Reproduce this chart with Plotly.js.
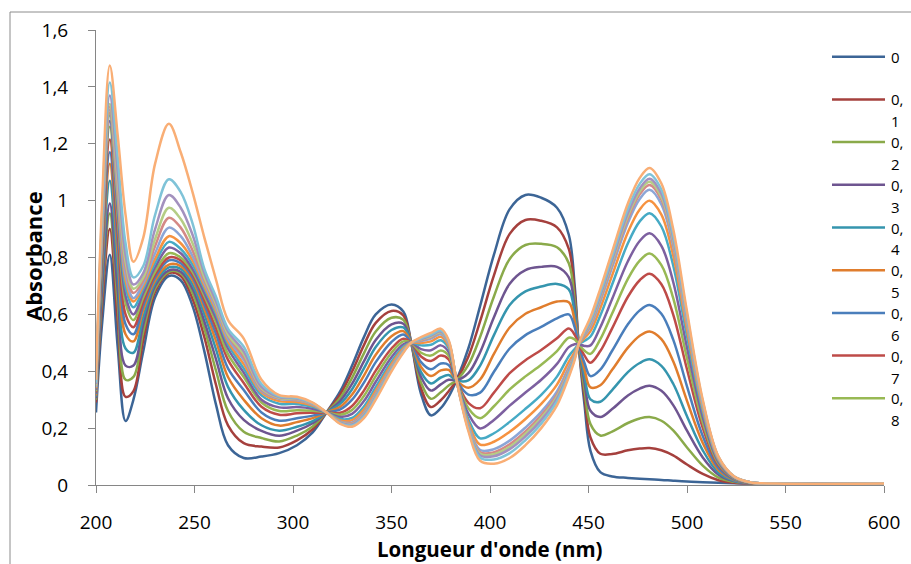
<!DOCTYPE html>
<html><head><meta charset="utf-8">
<script src="https://cdn.plot.ly/plotly-3.0.1.min.js"></script>
<style>html,body{margin:0;padding:0;background:#fff;overflow:hidden}#chart{width:911px;height:564px}</style>
</head><body><div id="chart"></div>
<script>
// Wavelength (nm) sampling points
const wavelengths = [200,203,207,211,215,219,224,230,237,243,249,255,261,267,275,284,293,302,310,317,324,330,336,342,350,356,360,365,370,375,379,383,389,395,402,410,418,426,434,440,443,445,448,451,456,462,470,476,481,487,493,500,508,516,524,532,545,600];

// Absorbance values, one array per series
const s0 = [.255,.56,.81,.486,.225,.30,.47,.66,.735,.72,.63,.47,.28,.14,.095,.10,.112,.14,.185,.255,.33,.42,.52,.60,.635,.61,.50,.32,.245,.27,.31,.368,.48,.63,.81,.97,1.02,1.01,.975,.88,.70,.495,.28,.12,.045,.03,.025,.022,.02,.018,.015,.012,.01,.008,.006,.005,.005,.005];
const s1 = [.29,.626,.90,.579,.31,.33,.51,.68,.745,.735,.655,.52,.35,.21,.147,.135,.132,.157,.196,.255,.319,.399,.492,.57,.612,.596,.50,.34,.274,.298,.33,.368,.451,.576,.737,.883,.932,.929,.906,.83,.674,.495,.307,.167,.11,.109,.122,.128,.13,.122,.104,.072,.039,.017,.008,.006,.005,.005];
const s2 = [.30,.66,.955,.64,.37,.38,.54,.69,.75,.745,.675,.55,.40,.26,.187,.165,.153,.174,.206,.255,.307,.377,.463,.54,.588,.581,.50,.36,.303,.326,.35,.368,.422,.521,.663,.795,.844,.848,.836,.78,.648,.495,.333,.214,.174,.188,.218,.234,.239,.226,.192,.132,.068,.026,.011,.006,.005,.005];
const s3 = [.305,.682,.99,.686,.42,.42,.565,.70,.755,.75,.69,.575,.44,.305,.229,.19,.173,.191,.217,.255,.296,.356,.435,.51,.565,.567,.50,.38,.332,.354,.37,.368,.393,.467,.59,.708,.756,.767,.767,.73,.622,.495,.36,.261,.239,.267,.315,.339,.349,.331,.281,.191,.097,.036,.013,.006,.005,.005];
const s4 = [.31,.728,1.07,.757,.48,.465,.59,.71,.765,.76,.705,.60,.475,.345,.264,.21,.191,.205,.225,.255,.286,.337,.41,.485,.545,.554,.50,.397,.357,.378,.387,.368,.368,.42,.527,.633,.681,.698,.707,.688,.60,.495,.382,.301,.293,.334,.397,.429,.442,.419,.356,.242,.122,.043,.015,.007,.005,.005];
const s5 = [.315,.763,1.13,.815,.53,.505,.615,.72,.775,.77,.72,.62,.505,.38,.30,.235,.209,.221,.235,.255,.275,.318,.385,.458,.523,.541,.50,.415,.383,.403,.405,.368,.342,.371,.461,.554,.602,.625,.645,.643,.577,.495,.406,.343,.351,.405,.483,.525,.54,.513,.435,.296,.148,.052,.017,.007,.005,.005];
const s6 = [.32,.788,1.17,.855,.565,.53,.63,.73,.79,.78,.73,.635,.53,.41,.334,.255,.226,.235,.244,.255,.266,.30,.36,.432,.503,.529,.50,.432,.407,.427,.422,.368,.318,.325,.398,.48,.527,.556,.586,.60,.554,.495,.428,.383,.406,.472,.565,.614,.633,.602,.511,.347,.172,.06,.019,.008,.005,.005];
const s7 = [.325,.815,1.215,.898,.60,.555,.645,.74,.80,.79,.74,.65,.55,.44,.359,.275,.247,.252,.254,.255,.254,.278,.332,.402,.48,.514,.50,.452,.436,.455,.442,.368,.289,.27,.325,.393,.439,.475,.516,.55,.528,.495,.455,.43,.471,.551,.662,.72,.743,.706,.599,.407,.201,.069,.022,.008,.005,.005];
const s8 = [.33,.842,1.26,.94,.64,.58,.66,.75,.815,.80,.75,.665,.57,.46,.38,.29,.26,.263,.261,.255,.247,.264,.313,.383,.465,.505,.50,.465,.455,.473,.455,.368,.27,.235,.277,.336,.382,.423,.471,.518,.512,.495,.472,.461,.513,.603,.725,.789,.814,.773,.657,.446,.22,.075,.023,.009,.005,.005];
const s9 = [.335,.855,1.28,.967,.665,.60,.675,.765,.835,.815,.76,.675,.585,.48,.395,.30,.273,.274,.268,.255,.239,.25,.295,.363,.449,.495,.50,.478,.474,.491,.468,.368,.251,.199,.229,.279,.325,.37,.426,.485,.495,.495,.489,.491,.555,.654,.787,.858,.885,.841,.714,.484,.239,.081,.025,.009,.005,.005];
const s10 = [.34,.868,1.30,.996,.695,.625,.69,.78,.855,.83,.775,.69,.60,.495,.41,.315,.286,.285,.275,.255,.232,.236,.276,.344,.434,.486,.50,.491,.493,.509,.481,.368,.232,.164,.182,.222,.268,.317,.381,.453,.478,.495,.507,.522,.596,.705,.85,.927,.956,.909,.772,.523,.258,.087,.027,.009,.005,.005];
const s11 = [.34,.874,1.31,1.017,.72,.645,.70,.795,.875,.85,.79,.70,.61,.505,.425,.325,.295,.292,.279,.255,.227,.228,.265,.332,.425,.48,.50,.499,.505,.521,.489,.368,.22,.142,.152,.187,.232,.285,.353,.433,.467,.495,.517,.541,.622,.737,.889,.969,1.0,.951,.807,.547,.27,.09,.027,.009,.005,.005];
const s12 = [.345,.881,1.32,1.035,.74,.657,.71,.815,.905,.875,.805,.71,.62,.515,.44,.33,.302,.298,.283,.255,.223,.22,.255,.321,.416,.475,.50,.506,.515,.53,.496,.368,.21,.123,.126,.156,.202,.257,.329,.415,.458,.495,.526,.557,.645,.765,.922,1.006,1.038,.987,.838,.568,.28,.094,.028,.01,.005,.005];
const s13 = [.35,.889,1.33,1.055,.765,.675,.72,.84,.94,.905,.825,.72,.63,.525,.45,.335,.305,.301,.284,.255,.221,.217,.251,.317,.413,.473,.50,.509,.519,.535,.499,.368,.206,.115,.115,.143,.188,.245,.318,.408,.454,.495,.53,.564,.655,.777,.937,1.022,1.055,1.003,.851,.577,.284,.095,.029,.01,.005,.005];
const s14 = [.35,.895,1.34,1.074,.785,.69,.73,.865,.975,.935,.85,.73,.635,.53,.46,.34,.307,.302,.285,.255,.22,.215,.248,.314,.411,.472,.50,.511,.522,.537,.501,.368,.203,.11,.108,.134,.18,.236,.311,.403,.452,.495,.533,.569,.661,.784,.947,1.032,1.066,1.013,.86,.583,.287,.096,.029,.01,.005,.005];
const s15 = [.355,.913,1.37,1.104,.81,.705,.745,.90,1.02,.975,.88,.745,.645,.54,.47,.345,.309,.304,.286,.255,.219,.213,.245,.311,.408,.47,.50,.513,.525,.54,.503,.368,.20,.104,.101,.126,.171,.228,.304,.398,.449,.495,.536,.574,.667,.792,.956,1.043,1.077,1.024,.869,.589,.29,.097,.029,.01,.005,.005];
const s16 = [.36,.94,1.415,1.154,.85,.73,.77,.95,1.075,1.03,.92,.76,.66,.55,.486,.355,.312,.307,.288,.255,.217,.209,.241,.306,.405,.468,.50,.516,.529,.544,.506,.368,.196,.096,.09,.112,.158,.216,.294,.39,.445,.495,.54,.581,.677,.804,.971,1.059,1.093,1.039,.882,.598,.294,.098,.03,.01,.005,.005];
const s17 = [.37,.978,1.475,1.23,.95,.785,.87,1.13,1.27,1.17,1.03,.87,.72,.58,.515,.37,.316,.31,.29,.255,.215,.205,.235,.30,.40,.465,.50,.52,.535,.55,.51,.368,.19,.085,.075,.095,.14,.20,.28,.38,.44,.495,.545,.59,.69,.82,.99,1.08,1.115,1.06,.90,.61,.30,.10,.03,.01,.005,.005];

const seriesValues = [s0,s1,s2,s3,s4,s5,s6,s7,s8,s9,s10,s11,s12,s13,s14,s15,s16,s17];
const seriesNames = ["0","0,1","0,2","0,3","0,4","0,5","0,6","0,7","0,8","0,9","1","1,1","1,2","1,3","1,4","1,5","1,6","1,7"];
const seriesColors = ["#3C6596","#A5403D","#8AAA4A","#6E5590","#3595AE","#E07D2D",
                      "#4A7EBB","#BE4B48","#98B954","#7D60A0","#46AAC5","#F69240",
                      "#8CA6D6","#D48986","#B5CD85","#A391BE","#7FC3D8","#F9AE75"];
const legendShown = 9;
const xTickValues = [200,250,300,350,400,450,500,550,600];
const yTickValues = [0,0.2,0.4,0.6,0.8,1,1.2,1.4,1.6];
const xTitle = "Longueur d'onde (nm)";
const yTitle = "Absorbance";

seriesValues.forEach((s,i)=>{ if(s.length!==wavelengths.length) console.error('length mismatch', i, s.length); });

const W = 911, H = 564;
const M = {l:96, r:27, t:30, b:79};
const PW = W - M.l - M.r, PH = H - M.t - M.b;
const px2x = p => (p - M.l) / PW;
const py2y = p => (H - M.b - p) / PH;
const FONT = '"Open Sans", "DejaVu Sans", sans-serif';

const traces = seriesValues.map((vals, i) => ({
  type: 'scatter', mode: 'lines', name: seriesNames[i],
  x: wavelengths, y: vals,
  line: {color: seriesColors[i], width: 2.5, shape: 'spline', smoothing: 1},
  showlegend: false, hoverinfo: 'x+y+name'
}));

const shapes = [
  {type:'line', xref:'paper', yref:'paper', x0:px2x(10), x1:px2x(W+5), y0:py2y(12), y1:py2y(12), line:{color:'#8c8c8c', width:1}, layer:'below'},
  {type:'line', xref:'paper', yref:'paper', x0:px2x(10), x1:px2x(10), y0:py2y(12), y1:py2y(H+5), line:{color:'#8c8c8c', width:1}, layer:'below'}
];
const annotations = [
  {xref:'paper', yref:'paper', x:px2x(33), y:py2y(256), text:'<b>'+yTitle+'</b>', textangle:-90, showarrow:false,
   xanchor:'center', yanchor:'middle', font:{family:FONT, size:22, color:'#000'}},
  {xref:'paper', yref:'paper', x:px2x(490), y:py2y(549), text:'<b>'+xTitle+'</b>', showarrow:false,
   xanchor:'center', yanchor:'middle', font:{family:FONT, size:20.5, color:'#000'}}
];
for (let i = 0; i < legendShown; i++) {
  const yp = 56.7 + 42.7 * i;
  shapes.push({type:'line', xref:'paper', yref:'paper', x0:px2x(832), x1:px2x(885), y0:py2y(yp), y1:py2y(yp),
               line:{color:seriesColors[i], width:2.5}});
  const name = seriesNames[i];
  const ci = name.indexOf(',');
  const parts = ci >= 0 ? [name.slice(0, ci+1), name.slice(ci+1)] : [name];
  parts.forEach((t, j) => annotations.push({xref:'paper', yref:'paper', x:px2x(889), y:py2y(yp + 22*j), text:t,
    showarrow:false, xanchor:'left', yanchor:'middle', font:{family:FONT, size:15, color:'#000'}}));
}

const axisCommon = {showline:true, linecolor:'#868686', linewidth:1, ticks:'outside', ticklen:7, tickcolor:'#868686',
  tickwidth:1, showgrid:false, zeroline:false, tickfont:{family:FONT, size:19, color:'#000'}, fixedrange:true};

const layout = {
  width: W, height: H, margin: M, paper_bgcolor:'#fff', plot_bgcolor:'#fff',
  separators: ', ', showlegend:false,
  xaxis: Object.assign({}, axisCommon, {range:[200,600], tickvals:xTickValues, ticklabelstandoff:13}),
  yaxis: Object.assign({}, axisCommon, {range:[0,1.6], tickvals:yTickValues, ticklabelstandoff:16}),
  shapes, annotations
};
Plotly.newPlot('chart', traces, layout, {staticPlot:true, displayModeBar:false});
</script></body></html>
